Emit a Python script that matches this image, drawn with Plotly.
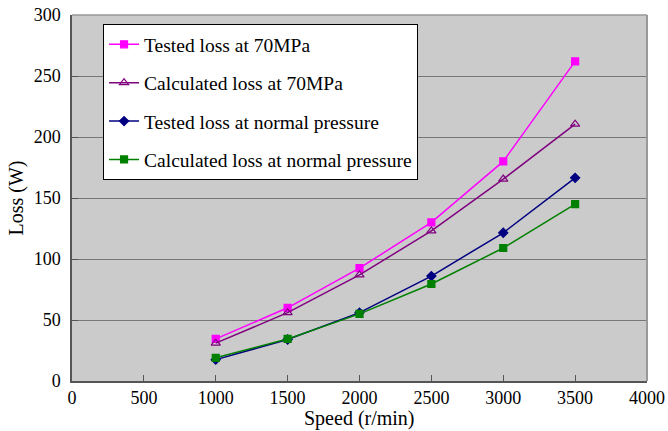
import plotly.graph_objects as go

speed = [1000, 1500, 2000, 2500, 3000, 3500]
tested_70 = [34.5, 60, 92.5, 130, 180, 262]
calc_70 = [31, 56, 87, 123, 165.5, 210.5]
tested_normal = [17.5, 34, 56, 86, 121.5, 166.5]
calc_normal = [19, 34.5, 55, 79.5, 109, 145]

names = ["Tested loss at 70MPa", "Calculated loss at 70MPa",
         "Tested loss at normal pressure", "Calculated loss at normal pressure"]
series = [tested_70, calc_70, tested_normal, calc_normal]
colors = ["#FF00FF", "#800080", "#000080", "#008000"]
symbols = ["square", "triangle-up-open", "diamond", "square"]
sizes = [7, 8, 7, 7]

fig = go.Figure()
for i, (n, s, c, sym, sz) in enumerate(zip(names, series, colors, symbols, sizes)):
    fig.add_trace(go.Scatter(
        x=speed, y=s, name=n, mode="lines+markers",
        line=dict(color=c, width=1.5),
        marker=dict(symbol=sym, size=sz, color=c, line=dict(color=c, width=1.2)),
        legendgroup=f"g{i}",
    ))

font = "Liberation Serif, Times New Roman, serif"
fig.update_layout(
    width=668, height=431,
    margin=dict(l=72, r=21, t=15, b=50),
    paper_bgcolor="white",
    plot_bgcolor="#CBCBCB",
    font=dict(family=font, size=18, color="black"),
    showlegend=True,
    legend=dict(
        x=0.054, y=0.975, xanchor="left", yanchor="top",
        bgcolor="white", bordercolor="black", borderwidth=1,
        font=dict(family=font, size=19.5, color="black"),
        traceorder="grouped", tracegroupgap=10,
        itemwidth=30,
    ),
    xaxis=dict(
        range=[0, 4000], dtick=500, showgrid=False, automargin=False,
        showline=True, linecolor="#555555", linewidth=1.5,
        ticks="inside", ticklen=6, tickcolor="#555555",
        zeroline=False, ticklabelstandoff=0,
        tickfont=dict(size=18),
    ),
    yaxis=dict(
        range=[0, 300], dtick=50, showgrid=True, gridcolor="#777777", gridwidth=1.2,
        showline=True, linecolor="#555555", linewidth=1.5, automargin=False,
        ticks="inside", ticklen=6, tickcolor="#555555",
        zeroline=False, ticklabelstandoff=6,
        title=dict(text="Loss (W)", font=dict(size=20), standoff=5),
        tickfont=dict(size=18),
    ),
    annotations=[dict(
        text="Speed (r/min)", xref="paper", yref="paper", x=0.5, y=-0.102,
        xanchor="center", yanchor="middle", showarrow=False,
        font=dict(family=font, size=20, color="black"),
    )],
)
fig.add_shape(type="line", xref="paper", yref="paper", x0=1, x1=1, y0=0, y1=1,
              line=dict(color="#999999", width=2))
fig.add_shape(type="line", xref="paper", yref="paper", x0=0, x1=1, y0=1, y1=1,
              line=dict(color="#999999", width=1.5))

fig.write_html("out.html", config={"displayModeBar": False},
               post_script="document.body.style.margin='0';document.body.style.overflow='hidden';")
